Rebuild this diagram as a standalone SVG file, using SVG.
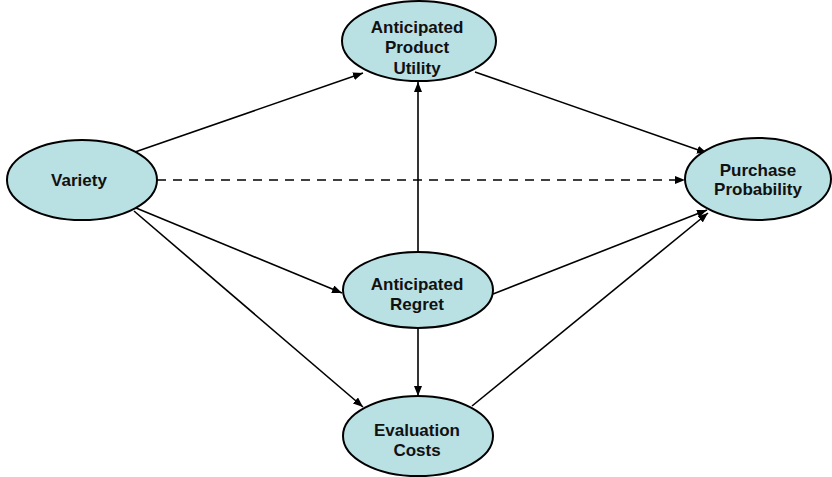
<svg xmlns="http://www.w3.org/2000/svg" width="832" height="477" viewBox="0 0 832 477">
<defs>
<style>
.node ellipse{fill:#b9e0e2;stroke:#000;stroke-width:2}
.node text{font-family:"Liberation Sans",Arial,sans-serif;font-weight:bold;font-size:17px;fill:#111;text-anchor:middle}
.edge{stroke:#000;stroke-width:1.6;fill:none;marker-end:url(#ah)}
.dash{stroke-dasharray:9 7}
</style>
<marker id="ah" viewBox="0 0 10 8" refX="10" refY="4" markerWidth="10" markerHeight="8" markerUnits="userSpaceOnUse" orient="auto">
<path d="M0,0 L10,4 L0,8 z" fill="#000"/>
</marker>
</defs>
<rect width="832" height="477" fill="#fff"/>
<g id="connectors">
<line class="edge" x1="135" y1="152" x2="363" y2="73"/>
<line class="edge dash" x1="157" y1="180" x2="685" y2="180"/>
<line class="edge" x1="136" y1="208" x2="342" y2="293"/>
<line class="edge" x1="134" y1="211" x2="363" y2="407"/>
<line class="edge" x1="418" y1="252" x2="418" y2="82"/>
<line class="edge" x1="418" y1="328" x2="418" y2="396"/>
<line class="edge" x1="475" y1="72" x2="707" y2="153"/>
<line class="edge" x1="493" y1="294" x2="707" y2="210"/>
<line class="edge" x1="472" y1="406" x2="708" y2="213"/>
</g>
<g id="n-utility" class="node">
<ellipse cx="419" cy="41" rx="77" ry="40"/>
<text x="417" y="33">Anticipated</text>
<text x="417" y="53">Product</text>
<text x="417" y="74">Utility</text>
</g>
<g id="n-variety" class="node">
<ellipse cx="82" cy="180" rx="75" ry="40"/>
<text x="79" y="186">Variety</text>
</g>
<g id="n-purchase" class="node">
<ellipse cx="758" cy="179" rx="73" ry="41"/>
<text x="758" y="176">Purchase</text>
<text x="758" y="195">Probability</text>
</g>
<g id="n-regret" class="node">
<ellipse cx="418" cy="290" rx="75" ry="38"/>
<text x="417" y="290">Anticipated</text>
<text x="417" y="310">Regret</text>
</g>
<g id="n-eval" class="node">
<ellipse cx="418" cy="436" rx="75" ry="40"/>
<text x="417" y="436">Evaluation</text>
<text x="417" y="456">Costs</text>
</g>
</svg>
